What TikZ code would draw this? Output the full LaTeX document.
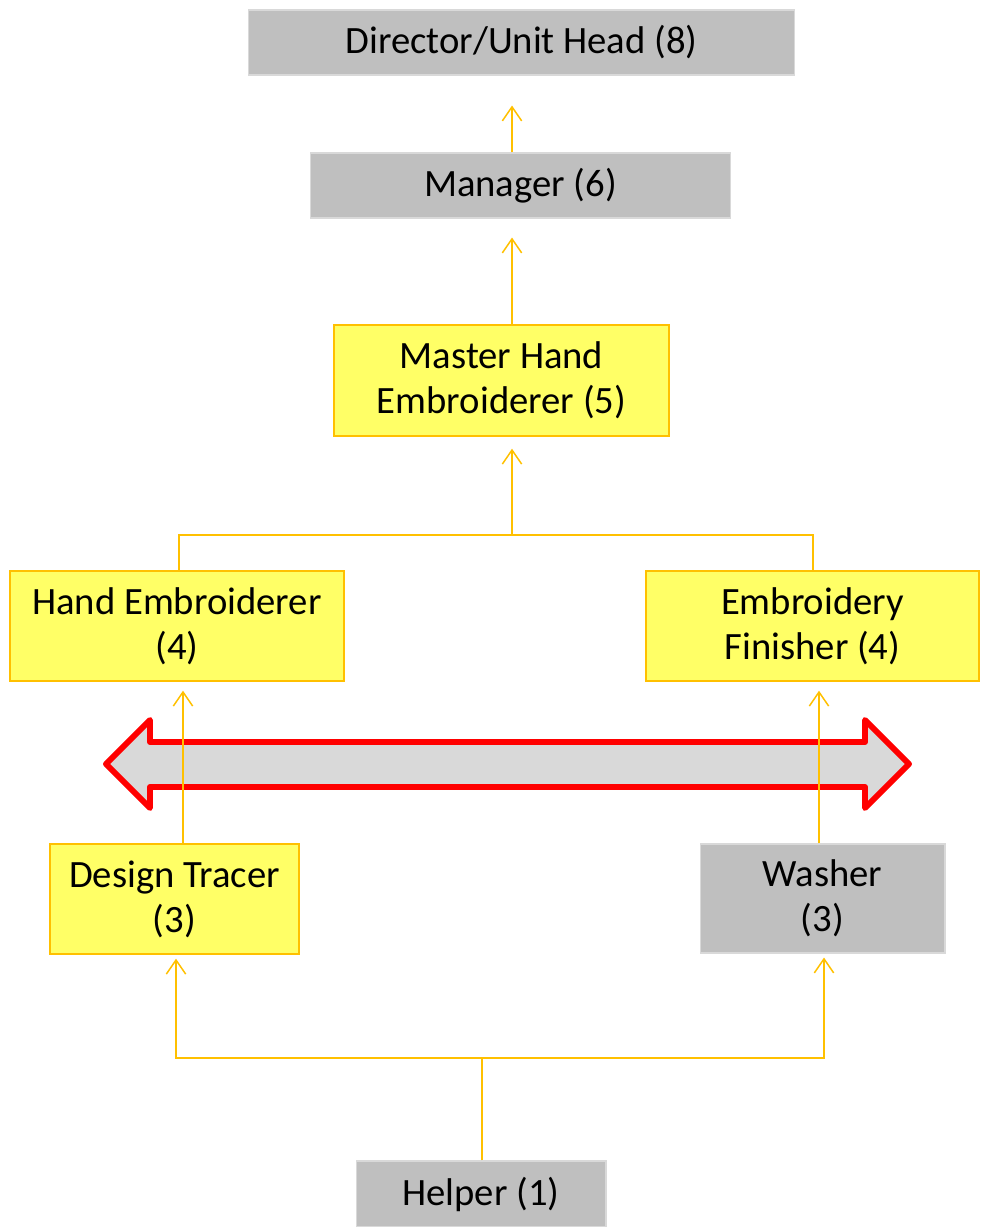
\documentclass[tikz,border=0pt]{standalone}
\usepackage{fontspec}
\setmainfont{Carlito}
\usetikzlibrary{arrows.meta}
\definecolor{boxgray}{HTML}{BFBFBF}
\definecolor{boxyellow}{HTML}{FFFF66}
\definecolor{linkorange}{HTML}{FFC000}
\definecolor{bandgray}{HTML}{D9D9D9}
\begin{document}
\begin{tikzpicture}[x=0.02cm, y=-0.02cm,
    every node/.style={font=\fontsize{22}{25.5}\selectfont, align=center, inner sep=0pt},
    graybox/.style={fill=boxgray, draw=boxgray!60!white, line width=0.6pt},
    yellowbox/.style={fill=boxyellow, draw=linkorange, line width=0.8pt},
    link/.style={draw=linkorange, line width=0.85pt},
    up/.style={link, -{Straight Barb[length=8pt, width=11pt, line width=0.85pt]}}]
  \useasboundingbox (0,0) rectangle (981,1227);
  % boxes
  \node[graybox, minimum width=10.94cm, minimum height=1.3cm] (dir) at (521.5,42.5) {Director/Unit Head (8)};
  \node[graybox, minimum width=8.42cm, minimum height=1.3cm] (mgr) at (520.5,185.5) {Manager (6)};
  \node[yellowbox, minimum width=6.7cm, minimum height=2.22cm] (mhe) at (501.5,380.5) {Master Hand\\Embroiderer (5)};
  \node[yellowbox, minimum width=6.68cm, minimum height=2.2cm] (he) at (177,626) {Hand Embroiderer\\(4)};
  \node[yellowbox, minimum width=6.66cm, minimum height=2.2cm] (ef) at (812.5,626) {Embroidery\\Finisher (4)};
  \node[yellowbox, minimum width=4.98cm, minimum height=2.2cm] (dt) at (174.5,899) {Design Tracer\\(3)};
  \node[graybox, minimum width=4.9cm, minimum height=2.18cm] (wa) at (822.5,898.5) {Washer\\(3)};
  \node[graybox, minimum width=5cm, minimum height=1.32cm] (hp) at (481,1194) {Helper (1)};
  % junction points
  \coordinate (spine) at (512,535);
  \coordinate (fork) at (482,1058);
  % two-way band
  \draw[draw=red, fill=bandgray, line width=3.4pt, line join=round]
    (106,764) -- (150,720) -- (150,742) -- (865,742) -- (865,720) -- (909,764)
    -- (865,808) -- (865,787) -- (150,787) -- (150,808) -- cycle;
  % connectors
  \draw[up, shorten >=0.6cm] (mgr.north -| spine) -- (dir.south -| spine);
  \draw[up, shorten >=0.38cm] (mhe.north -| spine) -- (mgr.south -| spine);
  \draw[link] (he.north -| 179,0) |- (spine) -| (ef.north -| 813,0);
  \draw[up, shorten >=0.24cm] (spine) -- (mhe.south -| spine);
  \draw[up, shorten >=0.18cm] (dt.north -| 183,0) -- (he.south -| 183,0);
  \draw[up, shorten >=0.18cm] (wa.north -| 819,0) -- (ef.south -| 819,0);
  \draw[link] (hp.north -| fork) -- (fork);
  \draw[up, shorten >=0.08cm] (fork) -| (dt.south -| 176,0);
  \draw[up, shorten >=0.08cm] (fork) -| (wa.south -| 824,0);
\end{tikzpicture}
\end{document}
